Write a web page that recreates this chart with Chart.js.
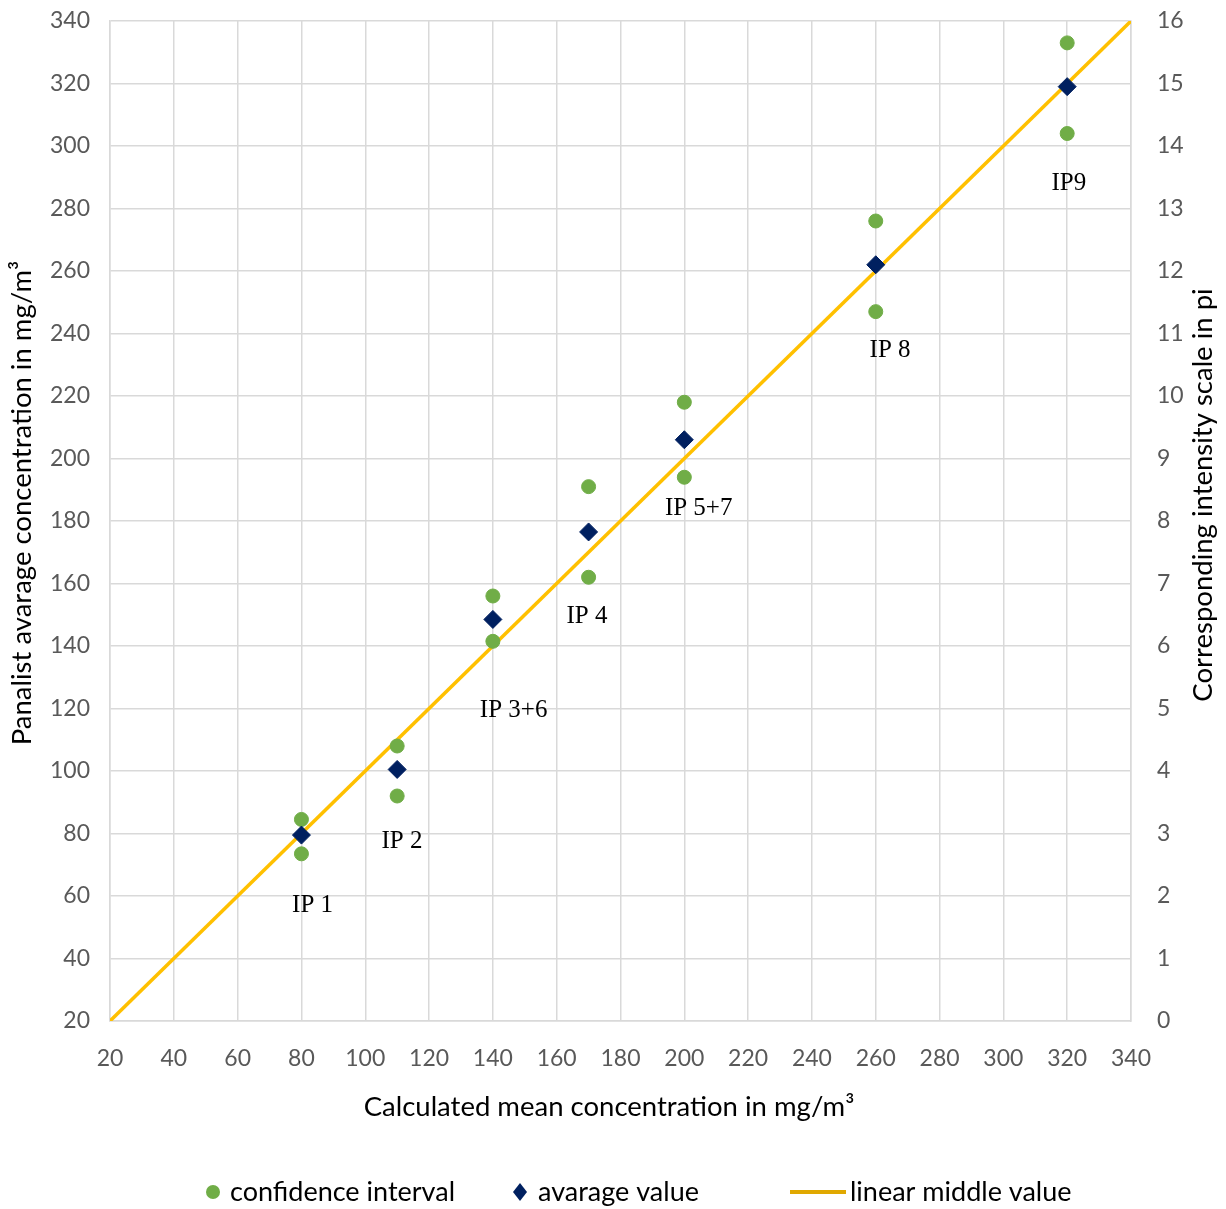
<!DOCTYPE html>
<html>
<head>
<meta charset="utf-8">
<script src="https://cdn.jsdelivr.net/npm/chart.js@4.4.1/dist/chart.umd.min.js"></script>
<style>
html,body{margin:0;padding:0;background:#fff;}
#wrap{width:1226px;height:1209px;position:relative;}
</style>
</head>
<body>
<div id="wrap"><canvas id="c" width="1226" height="1209"></canvas></div>
<script>
// ---- data ----
const pointLabels = ['IP 1','IP 2','IP 3+6','IP 4','IP 5+7','IP 8','IP9'];
const xValues   = [80, 110, 140, 170, 200, 260, 320];
const upperCI   = [84.5, 108, 156, 191, 218, 276, 333];
const lowerCI   = [73.5, 92, 141.5, 162, 194, 247, 304];
const avgValues = [79.5, 100.5, 148.5, 176.5, 206, 262, 319];
const labelX    = [83.5, 111.5, 146.5, 169.5, 204.5, 264.5, 320.5];
const labelY    = [57, 77.5, 119.5, 149.5, 184, 234.5, 288];
const lineX     = [20, 340];
const lineY     = [20, 340];
const seriesNames = ['confidence interval', 'avarage value', 'linear middle value'];
const xTitle = 'Calculated mean concentration in mg/m³';
const yTitle = 'Panalist avarage concentration in mg/m³';
const y2Title = 'Corresponding intensity scale in pi';

const GREEN = '#70AD47', NAVY = '#002060', GOLD = '#FFC000';
const AX_FONT = 'Lato, "Open Sans", sans-serif';

const ciData = [];
xValues.forEach((x, i) => { ciData.push({x, y: upperCI[i]}); ciData.push({x, y: lowerCI[i]}); });
const avgData = xValues.map((x, i) => ({x, y: avgValues[i]}));
const lineData = lineX.map((x, i) => ({x, y: lineY[i]}));

const extras = {
  id: 'extras',
  afterDatasetsDraw(chart) {
    const ctx = chart.ctx, xs = chart.scales.x, ys = chart.scales.y;
    ctx.save();
    // point labels
    ctx.fillStyle = '#000';
    ctx.font = '25px "Liberation Serif", "DejaVu Serif", serif';
    ctx.textAlign = 'center';
    ctx.textBaseline = 'middle';
    pointLabels.forEach((t, i) => {
      ctx.fillText(t, xs.getPixelForValue(labelX[i]), ys.getPixelForValue(labelY[i]));
    });
    ctx.font = '27.5px ' + AX_FONT;
    // x axis title
    ctx.fillText(xTitle, 609, 1107);
    // left axis title
    ctx.save();
    ctx.translate(22, 503);
    ctx.rotate(-Math.PI / 2);
    ctx.fillText(yTitle, 0, 0);
    ctx.restore();
    // right axis title (reads bottom to top)
    ctx.save();
    ctx.translate(1203, 495);
    ctx.rotate(-Math.PI / 2);
    ctx.fillText(y2Title, 0, 0);
    ctx.restore();
    // legend
    const ly = 1192;
    ctx.font = '27px ' + AX_FONT;
    ctx.textAlign = 'left';
    ctx.beginPath(); ctx.arc(213, ly, 7, 0, Math.PI * 2); ctx.fillStyle = GREEN; ctx.fill();
    ctx.fillStyle = '#000'; ctx.fillText(seriesNames[0], 230, ly);
    ctx.beginPath(); ctx.moveTo(520, ly - 9); ctx.lineTo(527, ly); ctx.lineTo(520, ly + 9); ctx.lineTo(513, ly); ctx.closePath();
    ctx.fillStyle = NAVY; ctx.fill();
    ctx.fillStyle = '#000'; ctx.fillText(seriesNames[1], 538, ly);
    ctx.beginPath(); ctx.moveTo(790, ly); ctx.lineTo(846, ly); ctx.strokeStyle = '#E0A800'; ctx.lineWidth = 4; ctx.stroke();
    ctx.fillStyle = '#000'; ctx.fillText(seriesNames[2], 850, ly);
    ctx.restore();
  }
};

function vFit(w) {
  return function (s) { s.width = w; s.paddingTop = 0; s.paddingBottom = 0; };
}

new Chart(document.getElementById('c'), {
  type: 'scatter',
  data: {
    datasets: [
      { label: seriesNames[2], type: 'line', data: lineData, borderColor: GOLD, borderWidth: 3.5, pointRadius: 0, fill: false, order: 3, yAxisID: 'y' },
      { label: seriesNames[0], data: ciData, backgroundColor: GREEN, borderColor: GREEN, pointRadius: 7, pointHoverRadius: 7, order: 2, yAxisID: 'y' },
      { label: seriesNames[1], data: avgData, pointStyle: 'rectRot', backgroundColor: NAVY, borderColor: NAVY, pointRadius: 9, pointHoverRadius: 9, order: 1, yAxisID: 'y' }
    ]
  },
  options: {
    responsive: false,
    animation: false,
    events: [],
    layout: { padding: { top: 21, bottom: 78, left: 0, right: 0 } },
    plugins: { legend: { display: false }, tooltip: { enabled: false } },
    scales: {
      x: {
        type: 'linear', min: 20, max: 340,
        ticks: { stepSize: 20, color: '#595959', font: { family: AX_FONT, size: 23 }, padding: 24 },
        grid: { color: '#d9d9d9', lineWidth: 1.5, drawTicks: false },
        border: { color: '#d9d9d9', width: 1.5 },
        title: { display: false, text: xTitle },
        afterFit(s) { s.height = 110; s.paddingLeft = 0; s.paddingRight = 0; }
      },
      y: {
        type: 'linear', position: 'left', min: 20, max: 340,
        ticks: { stepSize: 20, color: '#595959', font: { family: AX_FONT, size: 23 }, padding: 20 },
        grid: { color: '#d9d9d9', lineWidth: 1.5, drawTicks: false },
        border: { color: '#d9d9d9', width: 1.5 },
        title: { display: false, text: yTitle },
        afterFit: vFit(110)
      },
      y2: {
        type: 'linear', position: 'right', min: 0, max: 16,
        ticks: { stepSize: 1, color: '#595959', font: { family: AX_FONT, size: 23 }, padding: 26 },
        grid: { display: false, drawTicks: false },
        border: { color: '#d9d9d9', width: 1.5 },
        afterFit: vFit(95)
      }
    }
  },
  plugins: [extras]
});
</script>
</body>
</html>
